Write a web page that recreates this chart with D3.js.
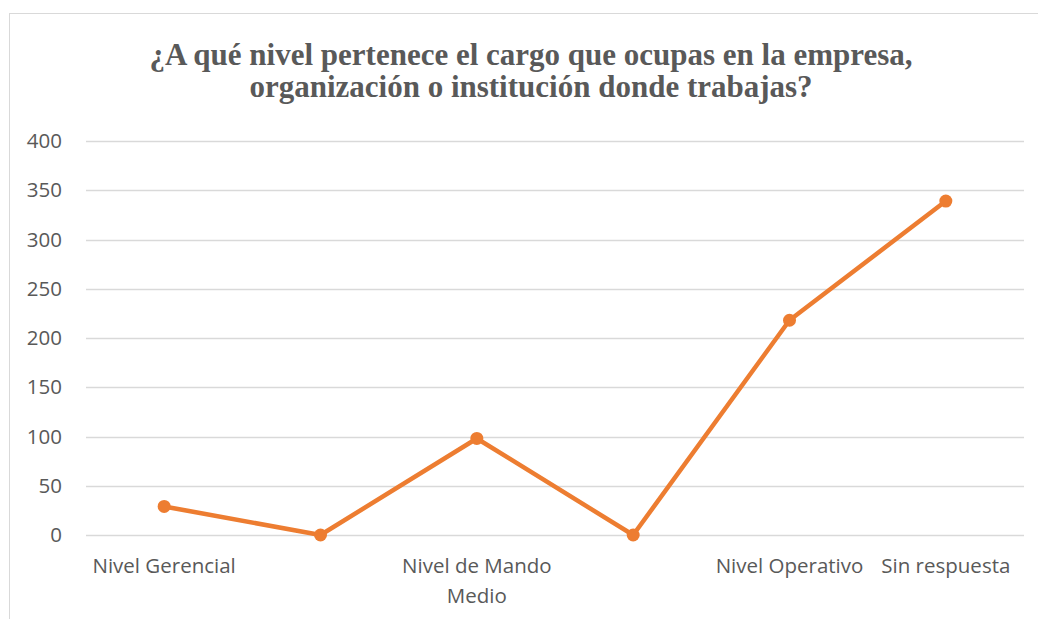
<!DOCTYPE html>
<html>
<head>
<meta charset="utf-8">
<script src="https://cdn.jsdelivr.net/npm/d3@7"></script>
<style>
  body { margin: 0; background: #fff; }
  text { fill: #595959; }
</style>
</head>
<body>
<div id="chartContainer"></div>
<script>
// categories on the x axis (two are blank in the source)
var categories = ["Nivel Gerencial", "", "Nivel de Mando Medio", "", "Nivel Operativo", "Sin respuesta"];
var values = [29, 0, 98, 0, 218, 339];
var yTicks = [0, 50, 100, 150, 200, 250, 300, 350, 400];
var titleLines = ["¿A qué nivel pertenece el cargo que ocupas en la empresa,",
                  "organización o institución donde trabajas?"];

var width = 1038;
var height = 619;
var margin = {top: 141, right: 14, bottom: 84, left: 86};

var svg = d3.select('#chartContainer')
    .append('svg')
    .attr("width", width)
    .attr("height", height);

// chart area border
svg.append('rect')
    .attr("x", 9.5).attr("y", 13.5)
    .attr("width", 1040).attr("height", 620)
    .attr("fill", "none")
    .attr("stroke", "#d9d9d9");

// title, two lines
var title = svg.append('g')
    .style("font-family", "'Liberation Serif', 'Times New Roman', serif")
    .style("font-weight", "bold")
    .style("font-size", "31px");
title.selectAll('text')
    .data(titleLines)
    .enter().append('text')
    .attr("text-anchor", "middle")
    .attr("x", 531)
    .attr("y", function(d, i) { return 65 + i * 32; })
    .text(function(d) { return d; });

var xScale = d3.scalePoint()
    .domain(d3.range(categories.length))
    .range([margin.left, width - margin.right])
    .padding(0.5);

var yScale = d3.scaleLinear()
    .domain([0, 400])
    .range([height - margin.bottom, margin.top]);

// gridlines
svg.append('g')
    .selectAll('line')
    .data(yTicks)
    .enter().append('line')
    .attr("x1", margin.left)
    .attr("x2", width - margin.right)
    .attr("y1", function(d) { return Math.round(yScale(d)) + 0.5; })
    .attr("y2", function(d) { return Math.round(yScale(d)) + 0.5; })
    .attr("stroke", "#d9d9d9")
    .attr("stroke-width", 1.3);

// y axis labels
var yAxis = d3.axisLeft(yScale).tickValues(yTicks).tickSize(0).tickPadding(24);
var yAxisGroup = svg.append('g')
    .attr("transform", "translate(" + margin.left + ",0)")
    .call(yAxis);
yAxisGroup.select('.domain').remove();
yAxisGroup.selectAll('text')
    .style("font-family", "'Open Sans', sans-serif")
    .style("font-size", "20.5px")
    .attr("fill", "#595959");

// x axis labels, wrapped like the original
function wrapLabel(s) {
  if (s == "Nivel de Mando Medio") return ["Nivel de Mando", "Medio"];
  return [s];
}
var xLabels = svg.append('g')
    .selectAll('text')
    .data(categories)
    .enter().append('text')
    .attr("text-anchor", "middle")
    .style("font-family", "'Open Sans', sans-serif")
    .style("font-size", "20.5px");
xLabels.each(function(d, i) {
  d3.select(this).selectAll('tspan')
    .data(wrapLabel(d))
    .enter().append('tspan')
    .attr("x", xScale(i))
    .attr("y", function(t, j) { return 573 + j * 30; })
    .text(function(t) { return t; });
});

// line
var lineFunc = d3.line()
    .x(function(d, i) { return xScale(i); })
    .y(function(d) { return yScale(d); });

svg.append('path')
    .attr("d", lineFunc(values))
    .attr("fill", "none")
    .attr("stroke", "#ED7D31")
    .attr("stroke-width", 4.5)
    .attr("stroke-linejoin", "round");

svg.append('g')
    .selectAll('circle')
    .data(values)
    .enter().append('circle')
    .attr("cx", function(d, i) { return xScale(i); })
    .attr("cy", function(d) { return yScale(d); })
    .attr("r", 6.5)
    .attr("fill", "#ED7D31");
</script>
</body>
</html>
